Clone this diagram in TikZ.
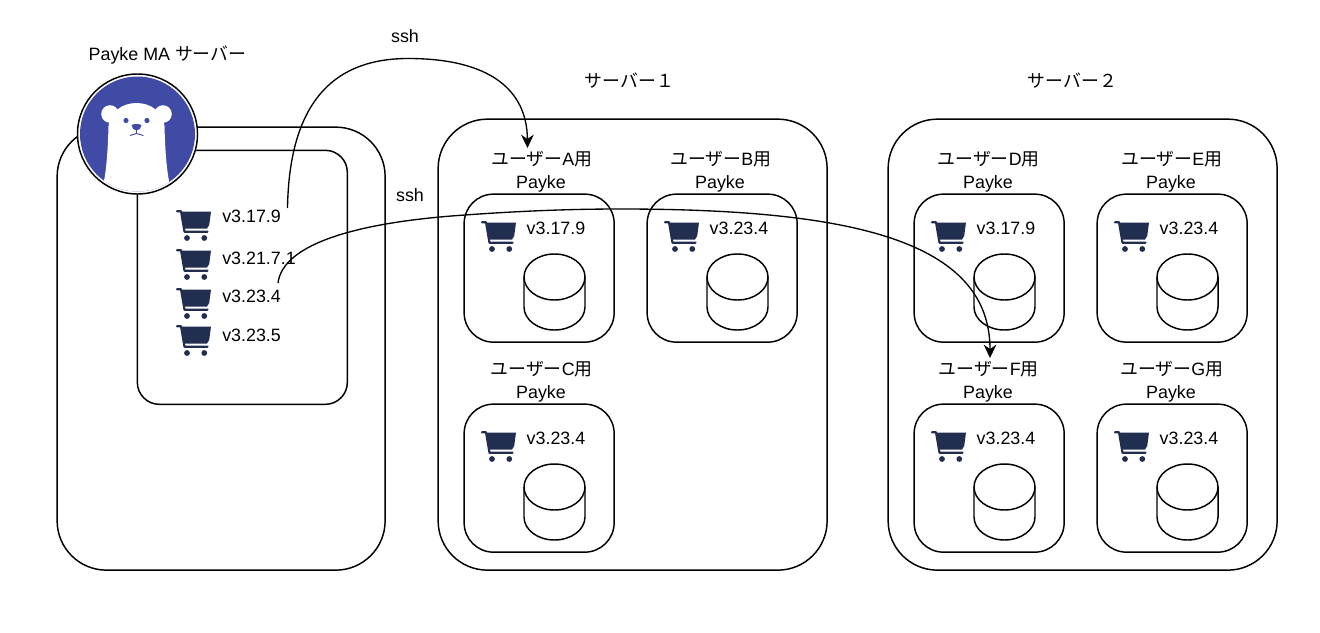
\documentclass[tikz,border=0pt]{standalone}
\usepackage{fontspec}
\setmainfont{Liberation Sans}
\newfontfamily\jp{Noto Sans CJK JP}
\usetikzlibrary{arrows.meta,calc}
\definecolor{cartblue}{HTML}{222E50}
\definecolor{bearblue}{HTML}{3F4BA5}
\tikzset{
  x=0.75pt,y=-0.75pt,
  every node/.style={font=\fontsize{13.4}{15}\selectfont,inner sep=0pt,text=black},
  ln/.style={draw=black,line width=1.1pt},
  bigbox/.style={ln,rectangle,rounded corners=37pt},
  midbox/.style={ln,rectangle,rounded corners=22pt},
  smallbox/.style={ln,rectangle,rounded corners=16.5pt},
  conn/.style={draw=black,line width=1pt,-{Stealth[length=10pt,width=9.5pt]}},
  cart/.pic={
    \fill[cartblue] (5,1.5) -- (35,1.5) -- (33.2,15) -- (31,18.5) -- (8.5,18.5) -- cycle;
    \draw[cartblue,line width=1.6pt,line join=round,line cap=round] (0.9,1.3) -- (5,1.3) -- (8.5,21.8) -- (31.5,21.8);
    \fill[cartblue] (11,28) circle (2.9) (28.3,28) circle (2.9);
  },
}
% name, left, top, width, height, style
\newcommand{\bx}[6]{\node[#6,minimum width=#4*0.75pt,minimum height=#5*0.75pt,anchor=north west] (#1) at (#2,#3) {};}
% name, left, top, letter, version, title offset
\newcommand{\userbox}[6]{%
  \bx{#1}{#2-0.6}{#3-0.6}{150}{148}{midbox}
  \node (#1title) at ($(#2,#3)+(#6+0.6,-34.5)$) {{\jp ユーザー}#4{\jp 用}};
  \node (#1payke) at ($(#2,#3)+(#6,-10.5)$) {Payke};
  \pic at (#2+17,#3+27) {cart};
  \node (#1ver) at ($(#2,#3)+(92,34.3)$) {#5};
  \begin{scope}[shift={(#2+60,#3+60)}]
    \draw[ln] (0,23) -- (0,53) arc[start angle=180,end angle=0,x radius=30.5,y radius=23] -- (61,23);
    \draw[ln] (30.5,23) ellipse[x radius=30.5,y radius=23];
  \end{scope}
}
\begin{document}
\begin{tikzpicture}
\useasboundingbox (0,0) rectangle (1320,632);
\fill[white] (0,0) rectangle (1320,632);
% left server
\bx{ma}{56.4}{126.4}{328}{443}{bigbox}
\bx{mainner}{136.6}{149.6}{210}{254}{smallbox}
\node (matitle) at (167.5,55) {Payke MA {\jp サーバー}};
% logo
\node[circle,draw=black,line width=1.1pt,fill=white,minimum size=120*0.75pt] (logo) at (137.5,134) {};
\begin{scope}
  \fill[bearblue] (137.5,134) circle (57.5);
  \clip (137.5,134) circle (57.5);
  \fill[white] (110,114) circle (8.8) (163,114) circle (8.8);
  \fill[white] (108.5,126) .. controls (110,112) and (122,103) .. (136.5,103)
    .. controls (151,103) and (163,112) .. (164.5,126)
    .. controls (165,145) and (166,165) .. (169,181) -- (169,200) -- (104,200) -- (104,181)
    .. controls (107,165) and (108,145) .. (108.5,126) -- cycle;
  \fill[bearblue] (126,120.5) circle (2.6) (147,120.5) circle (2.6);
  \fill[bearblue] (131.5,125) .. controls (134,123.7) and (139,123.7) .. (141.5,125) .. controls (141.5,128) and (139,130.5) .. (136.5,130.5) .. controls (134,130.5) and (131.5,128) .. (131.5,125) -- cycle;
  \draw[bearblue,line width=0.7pt] (136.5,130) -- (136.5,133.5) (130,135.5) -- (136.5,133.5) -- (143.5,135.5);
\end{scope}
% carts + versions
\pic at (176,210) {cart};
\pic at (176,249) {cart};
\pic at (176,288) {cart};
\pic at (176,325) {cart};
\node[anchor=west] (v1) at (222,216.5) {v3.17.9};
\node[anchor=west] (v2) at (222,258) {v3.21.7.1};
\node[anchor=west] (v3) at (222,296.5) {v3.23.4};
\node[anchor=west] (v4) at (222,335) {v3.23.5};
% servers
\bx{s1}{437.4}{118.4}{389}{451}{bigbox}
\bx{s2}{887.4}{118.4}{389}{451}{bigbox}
\node (s1t) at (629.5,81) {{\jp サーバー１}};
\node (s2t) at (1072.5,81) {{\jp サーバー２}};
\userbox{a}{464}{194}{A}{v3.17.9}{77}
\userbox{b}{647}{194}{B}{v3.23.4}{73}
\userbox{c}{464}{404}{C}{v3.23.4}{77}
\userbox{d}{914}{194}{D}{v3.17.9}{74}
\userbox{e}{1097}{194}{E}{v3.23.4}{74}
\userbox{f}{914}{404}{F}{v3.23.4}{74}
\userbox{g}{1097}{404}{G}{v3.23.4}{74}
\node (ssh1) at (405,36) {ssh};
\node (ssh2) at (410,195.5) {ssh};
% connectors
\coordinate (p1) at (287.5,208);
\coordinate (top1) at (408,58.5);
\coordinate (to1) at (527.5,148);
\coordinate (p2) at (278,283);
\coordinate (q2) at (465,215);
\coordinate (mid2) at (620,209);
\coordinate (to2) at (990,358);
\draw[conn] (p1) .. controls (289,120) and (320,58.5) .. (top1) .. controls (490,58.5) and (527,90) .. (to1);
\draw[conn] (p2) .. controls (283,243) and (360,222) .. (q2) .. controls (520,211) and (570,209) .. (mid2) .. controls (850,209) and (990,240) .. (to2);
\end{tikzpicture}
\end{document}
